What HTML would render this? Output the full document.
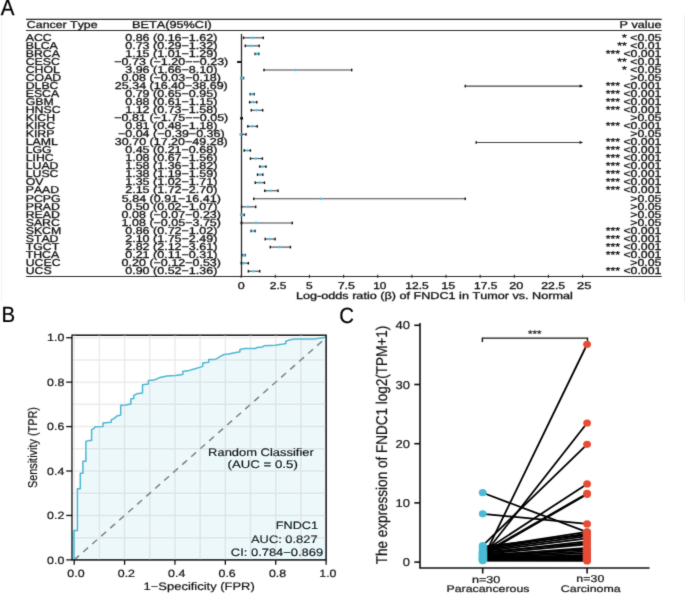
<!DOCTYPE html><html><head><meta charset="utf-8"><style>html,body{margin:0;padding:0;background:#fff;}svg{display:block;}text{font-family:"Liberation Sans",sans-serif;font-kerning:none;text-rendering:geometricPrecision;stroke:#111;stroke-width:0.3px;}.bc text{stroke-width:0.2px;}</style></head><body>
<svg width="685" height="594" viewBox="0 0 685 594">
<rect width="685" height="594" fill="#fff"/>
<defs><filter id="soft" filterUnits="userSpaceOnUse" x="0" y="0" width="685" height="594"><feConvolveMatrix order="3" kernelMatrix="0.02 0.08 0.02 0.08 0.6 0.08 0.02 0.08 0.02" divisor="1" edgeMode="duplicate"/></filter></defs>
<g filter="url(#soft)">
<line x1="1.5" y1="17" x2="1.5" y2="302" stroke="#f2f2f2" stroke-width="1"/>
<line x1="684.5" y1="15" x2="684.5" y2="302" stroke="#f0f0f0" stroke-width="1"/>
<text x="0.86" y="15.30" font-size="21.90" textLength="13.68" lengthAdjust="spacingAndGlyphs" fill="#000" >A</text>
<g stroke="#2a2a2a" stroke-width="1.2" fill="none">
<line x1="26" y1="19.4" x2="661.7" y2="19.4"/>
<line x1="26" y1="30.5" x2="661.7" y2="30.5"/>
<line x1="26" y1="276.5" x2="661.7" y2="276.5"/>
</g>
<text x="26.87" y="27.80" font-size="10.00" textLength="70.68" lengthAdjust="spacingAndGlyphs" fill="#111" >Cancer Type</text>
<text x="131.96" y="27.80" font-size="10.00" textLength="79.83" lengthAdjust="spacingAndGlyphs" fill="#111" >BETA(95%CI)</text>
<text x="619.46" y="27.80" font-size="10.00" textLength="42.10" lengthAdjust="spacingAndGlyphs" fill="#111" >P value</text>
<text x="25.70" y="40.50" font-size="10.00" textLength="25.97" lengthAdjust="spacingAndGlyphs" fill="#111">ACC</text>
<text x="125.26" y="40.50" font-size="10.00" textLength="92.08" lengthAdjust="spacingAndGlyphs" fill="#111">0.86 (0.16−1.62)</text>
<text x="622.07" y="40.50" font-size="10.00" textLength="39.33" lengthAdjust="spacingAndGlyphs" fill="#111">* &lt;0.05</text>
<text x="25.70" y="48.55" font-size="10.00" textLength="32.13" lengthAdjust="spacingAndGlyphs" fill="#111">BLCA</text>
<text x="125.26" y="48.55" font-size="10.00" textLength="92.08" lengthAdjust="spacingAndGlyphs" fill="#111">0.73 (0.29−1.32)</text>
<text x="617.29" y="48.55" font-size="10.00" textLength="44.11" lengthAdjust="spacingAndGlyphs" fill="#111">** &lt;0.01</text>
<text x="25.70" y="56.60" font-size="10.00" textLength="34.17" lengthAdjust="spacingAndGlyphs" fill="#111">BRCA</text>
<text x="125.26" y="56.60" font-size="10.00" textLength="92.08" lengthAdjust="spacingAndGlyphs" fill="#111">1.15 (1.01−1.29)</text>
<text x="605.66" y="56.60" font-size="10.00" textLength="55.74" lengthAdjust="spacingAndGlyphs" fill="#111">*** &lt;0.001</text>
<text x="25.70" y="64.65" font-size="10.00" textLength="34.17" lengthAdjust="spacingAndGlyphs" fill="#111">CESC</text>
<text x="114.31" y="64.65" font-size="10.00" textLength="113.98" lengthAdjust="spacingAndGlyphs" fill="#111">−0.73 (−1.20−−0.23)</text>
<text x="617.29" y="64.65" font-size="10.00" textLength="44.11" lengthAdjust="spacingAndGlyphs" fill="#111">** &lt;0.01</text>
<text x="25.70" y="72.70" font-size="10.00" textLength="34.17" lengthAdjust="spacingAndGlyphs" fill="#111">CHOL</text>
<text x="125.26" y="72.70" font-size="10.00" textLength="92.08" lengthAdjust="spacingAndGlyphs" fill="#111">3.96 (1.66−8.10)</text>
<text x="622.07" y="72.70" font-size="10.00" textLength="39.33" lengthAdjust="spacingAndGlyphs" fill="#111">* &lt;0.05</text>
<text x="25.70" y="80.75" font-size="10.00" textLength="35.54" lengthAdjust="spacingAndGlyphs" fill="#111">COAD</text>
<text x="121.61" y="80.75" font-size="10.00" textLength="99.38" lengthAdjust="spacingAndGlyphs" fill="#111">0.08 (−0.03−0.18)</text>
<text x="630.28" y="80.75" font-size="10.00" textLength="31.12" lengthAdjust="spacingAndGlyphs" fill="#111">&gt;0.05</text>
<text x="25.70" y="88.80" font-size="10.00" textLength="32.81" lengthAdjust="spacingAndGlyphs" fill="#111">DLBC</text>
<text x="114.83" y="88.80" font-size="10.00" textLength="112.94" lengthAdjust="spacingAndGlyphs" fill="#111">25.34 (16.40−38.69)</text>
<text x="605.66" y="88.80" font-size="10.00" textLength="55.74" lengthAdjust="spacingAndGlyphs" fill="#111">*** &lt;0.001</text>
<text x="25.70" y="96.85" font-size="10.00" textLength="33.49" lengthAdjust="spacingAndGlyphs" fill="#111">ESCA</text>
<text x="125.26" y="96.85" font-size="10.00" textLength="92.08" lengthAdjust="spacingAndGlyphs" fill="#111">0.79 (0.65−0.95)</text>
<text x="605.66" y="96.85" font-size="10.00" textLength="55.74" lengthAdjust="spacingAndGlyphs" fill="#111">*** &lt;0.001</text>
<text x="25.70" y="104.90" font-size="10.00" textLength="28.02" lengthAdjust="spacingAndGlyphs" fill="#111">GBM</text>
<text x="125.26" y="104.90" font-size="10.00" textLength="92.08" lengthAdjust="spacingAndGlyphs" fill="#111">0.88 (0.61−1.15)</text>
<text x="605.66" y="104.90" font-size="10.00" textLength="55.74" lengthAdjust="spacingAndGlyphs" fill="#111">*** &lt;0.001</text>
<text x="25.70" y="112.95" font-size="10.00" textLength="34.85" lengthAdjust="spacingAndGlyphs" fill="#111">HNSC</text>
<text x="125.26" y="112.95" font-size="10.00" textLength="92.08" lengthAdjust="spacingAndGlyphs" fill="#111">1.12 (0.73−1.58)</text>
<text x="605.66" y="112.95" font-size="10.00" textLength="55.74" lengthAdjust="spacingAndGlyphs" fill="#111">*** &lt;0.001</text>
<text x="25.70" y="121.00" font-size="10.00" textLength="29.39" lengthAdjust="spacingAndGlyphs" fill="#111">KICH</text>
<text x="114.31" y="121.00" font-size="10.00" textLength="113.98" lengthAdjust="spacingAndGlyphs" fill="#111">−0.81 (−1.75−−0.05)</text>
<text x="630.28" y="121.00" font-size="10.00" textLength="31.12" lengthAdjust="spacingAndGlyphs" fill="#111">&gt;0.05</text>
<text x="25.70" y="129.05" font-size="10.00" textLength="29.39" lengthAdjust="spacingAndGlyphs" fill="#111">KIRC</text>
<text x="125.26" y="129.05" font-size="10.00" textLength="92.08" lengthAdjust="spacingAndGlyphs" fill="#111">0.81 (0.48−1.18)</text>
<text x="605.66" y="129.05" font-size="10.00" textLength="55.74" lengthAdjust="spacingAndGlyphs" fill="#111">*** &lt;0.001</text>
<text x="25.70" y="137.10" font-size="10.00" textLength="28.71" lengthAdjust="spacingAndGlyphs" fill="#111">KIRP</text>
<text x="117.96" y="137.10" font-size="10.00" textLength="106.68" lengthAdjust="spacingAndGlyphs" fill="#111">−0.04 (−0.39−0.36)</text>
<text x="630.28" y="137.10" font-size="10.00" textLength="31.12" lengthAdjust="spacingAndGlyphs" fill="#111">&gt;0.05</text>
<text x="25.70" y="145.15" font-size="10.00" textLength="32.13" lengthAdjust="spacingAndGlyphs" fill="#111">LAML</text>
<text x="114.83" y="145.15" font-size="10.00" textLength="112.94" lengthAdjust="spacingAndGlyphs" fill="#111">30.70 (17.20−49.28)</text>
<text x="605.66" y="145.15" font-size="10.00" textLength="55.74" lengthAdjust="spacingAndGlyphs" fill="#111">*** &lt;0.001</text>
<text x="25.70" y="153.20" font-size="10.00" textLength="25.98" lengthAdjust="spacingAndGlyphs" fill="#111">LGG</text>
<text x="125.26" y="153.20" font-size="10.00" textLength="92.08" lengthAdjust="spacingAndGlyphs" fill="#111">0.45 (0.21−0.68)</text>
<text x="605.66" y="153.20" font-size="10.00" textLength="55.74" lengthAdjust="spacingAndGlyphs" fill="#111">*** &lt;0.001</text>
<text x="25.70" y="161.25" font-size="10.00" textLength="28.02" lengthAdjust="spacingAndGlyphs" fill="#111">LIHC</text>
<text x="125.26" y="161.25" font-size="10.00" textLength="92.08" lengthAdjust="spacingAndGlyphs" fill="#111">1.08 (0.67−1.56)</text>
<text x="605.66" y="161.25" font-size="10.00" textLength="55.74" lengthAdjust="spacingAndGlyphs" fill="#111">*** &lt;0.001</text>
<text x="25.70" y="169.30" font-size="10.00" textLength="32.81" lengthAdjust="spacingAndGlyphs" fill="#111">LUAD</text>
<text x="125.26" y="169.30" font-size="10.00" textLength="92.08" lengthAdjust="spacingAndGlyphs" fill="#111">1.58 (1.36−1.82)</text>
<text x="605.66" y="169.30" font-size="10.00" textLength="55.74" lengthAdjust="spacingAndGlyphs" fill="#111">*** &lt;0.001</text>
<text x="25.70" y="177.35" font-size="10.00" textLength="32.81" lengthAdjust="spacingAndGlyphs" fill="#111">LUSC</text>
<text x="125.26" y="177.35" font-size="10.00" textLength="92.08" lengthAdjust="spacingAndGlyphs" fill="#111">1.38 (1.19−1.59)</text>
<text x="605.66" y="177.35" font-size="10.00" textLength="55.74" lengthAdjust="spacingAndGlyphs" fill="#111">*** &lt;0.001</text>
<text x="25.70" y="185.40" font-size="10.00" textLength="17.77" lengthAdjust="spacingAndGlyphs" fill="#111">OV</text>
<text x="125.26" y="185.40" font-size="10.00" textLength="92.08" lengthAdjust="spacingAndGlyphs" fill="#111">1.35 (1.02−1.71)</text>
<text x="605.66" y="185.40" font-size="10.00" textLength="55.74" lengthAdjust="spacingAndGlyphs" fill="#111">*** &lt;0.001</text>
<text x="25.70" y="193.45" font-size="10.00" textLength="33.49" lengthAdjust="spacingAndGlyphs" fill="#111">PAAD</text>
<text x="125.26" y="193.45" font-size="10.00" textLength="92.08" lengthAdjust="spacingAndGlyphs" fill="#111">2.15 (1.72−2.70)</text>
<text x="605.66" y="193.45" font-size="10.00" textLength="55.74" lengthAdjust="spacingAndGlyphs" fill="#111">*** &lt;0.001</text>
<text x="25.70" y="201.50" font-size="10.00" textLength="34.86" lengthAdjust="spacingAndGlyphs" fill="#111">PCPG</text>
<text x="121.78" y="201.50" font-size="10.00" textLength="99.04" lengthAdjust="spacingAndGlyphs" fill="#111">5.84 (0.91−16.41)</text>
<text x="630.28" y="201.50" font-size="10.00" textLength="31.12" lengthAdjust="spacingAndGlyphs" fill="#111">&gt;0.05</text>
<text x="25.70" y="209.55" font-size="10.00" textLength="34.17" lengthAdjust="spacingAndGlyphs" fill="#111">PRAD</text>
<text x="125.26" y="209.55" font-size="10.00" textLength="92.08" lengthAdjust="spacingAndGlyphs" fill="#111">0.50 (0.02−1.07)</text>
<text x="630.28" y="209.55" font-size="10.00" textLength="31.12" lengthAdjust="spacingAndGlyphs" fill="#111">&gt;0.05</text>
<text x="25.70" y="217.60" font-size="10.00" textLength="34.17" lengthAdjust="spacingAndGlyphs" fill="#111">READ</text>
<text x="121.61" y="217.60" font-size="10.00" textLength="99.38" lengthAdjust="spacingAndGlyphs" fill="#111">0.08 (−0.07−0.23)</text>
<text x="630.28" y="217.60" font-size="10.00" textLength="31.12" lengthAdjust="spacingAndGlyphs" fill="#111">&gt;0.05</text>
<text x="25.70" y="225.65" font-size="10.00" textLength="34.17" lengthAdjust="spacingAndGlyphs" fill="#111">SARC</text>
<text x="121.61" y="225.65" font-size="10.00" textLength="99.38" lengthAdjust="spacingAndGlyphs" fill="#111">1.08 (−0.05−3.75)</text>
<text x="630.28" y="225.65" font-size="10.00" textLength="31.12" lengthAdjust="spacingAndGlyphs" fill="#111">&gt;0.05</text>
<text x="25.70" y="233.70" font-size="10.00" textLength="35.54" lengthAdjust="spacingAndGlyphs" fill="#111">SKCM</text>
<text x="125.26" y="233.70" font-size="10.00" textLength="92.08" lengthAdjust="spacingAndGlyphs" fill="#111">0.86 (0.72−1.02)</text>
<text x="605.66" y="233.70" font-size="10.00" textLength="55.74" lengthAdjust="spacingAndGlyphs" fill="#111">*** &lt;0.001</text>
<text x="25.70" y="241.75" font-size="10.00" textLength="32.80" lengthAdjust="spacingAndGlyphs" fill="#111">STAD</text>
<text x="125.26" y="241.75" font-size="10.00" textLength="92.08" lengthAdjust="spacingAndGlyphs" fill="#111">2.10 (1.75−2.49)</text>
<text x="605.66" y="241.75" font-size="10.00" textLength="55.74" lengthAdjust="spacingAndGlyphs" fill="#111">*** &lt;0.001</text>
<text x="25.70" y="249.80" font-size="10.00" textLength="33.48" lengthAdjust="spacingAndGlyphs" fill="#111">TGCT</text>
<text x="125.26" y="249.80" font-size="10.00" textLength="92.08" lengthAdjust="spacingAndGlyphs" fill="#111">2.82 (2.12−3.61)</text>
<text x="605.66" y="249.80" font-size="10.00" textLength="55.74" lengthAdjust="spacingAndGlyphs" fill="#111">*** &lt;0.001</text>
<text x="25.70" y="257.85" font-size="10.00" textLength="33.48" lengthAdjust="spacingAndGlyphs" fill="#111">THCA</text>
<text x="125.26" y="257.85" font-size="10.00" textLength="92.08" lengthAdjust="spacingAndGlyphs" fill="#111">0.21 (0.11−0.31)</text>
<text x="605.66" y="257.85" font-size="10.00" textLength="55.74" lengthAdjust="spacingAndGlyphs" fill="#111">*** &lt;0.001</text>
<text x="25.70" y="265.90" font-size="10.00" textLength="34.85" lengthAdjust="spacingAndGlyphs" fill="#111">UCEC</text>
<text x="121.61" y="265.90" font-size="10.00" textLength="99.38" lengthAdjust="spacingAndGlyphs" fill="#111">0.20 (−0.12−0.53)</text>
<text x="630.28" y="265.90" font-size="10.00" textLength="31.12" lengthAdjust="spacingAndGlyphs" fill="#111">&gt;0.05</text>
<text x="25.70" y="273.95" font-size="10.00" textLength="25.97" lengthAdjust="spacingAndGlyphs" fill="#111">UCS</text>
<text x="125.26" y="273.95" font-size="10.00" textLength="92.08" lengthAdjust="spacingAndGlyphs" fill="#111">0.90 (0.52−1.36)</text>
<text x="605.66" y="273.95" font-size="10.00" textLength="55.74" lengthAdjust="spacingAndGlyphs" fill="#111">*** &lt;0.001</text>
<line x1="241.5" y1="33.8" x2="241.5" y2="276.3" stroke="#222" stroke-width="1.2"/>
<line x1="241.20" y1="274.8" x2="241.20" y2="277.8" stroke="#222" stroke-width="1.1"/>
<line x1="275.34" y1="274.8" x2="275.34" y2="277.8" stroke="#222" stroke-width="1.1"/>
<line x1="309.48" y1="274.8" x2="309.48" y2="277.8" stroke="#222" stroke-width="1.1"/>
<line x1="343.62" y1="274.8" x2="343.62" y2="277.8" stroke="#222" stroke-width="1.1"/>
<line x1="377.76" y1="274.8" x2="377.76" y2="277.8" stroke="#222" stroke-width="1.1"/>
<line x1="411.90" y1="274.8" x2="411.90" y2="277.8" stroke="#222" stroke-width="1.1"/>
<line x1="446.04" y1="274.8" x2="446.04" y2="277.8" stroke="#222" stroke-width="1.1"/>
<line x1="480.18" y1="274.8" x2="480.18" y2="277.8" stroke="#222" stroke-width="1.1"/>
<line x1="514.32" y1="274.8" x2="514.32" y2="277.8" stroke="#222" stroke-width="1.1"/>
<line x1="548.46" y1="274.8" x2="548.46" y2="277.8" stroke="#222" stroke-width="1.1"/>
<line x1="582.60" y1="274.8" x2="582.60" y2="277.8" stroke="#222" stroke-width="1.1"/>
<text x="237.81" y="288.70" font-size="9.90" textLength="6.98" lengthAdjust="spacingAndGlyphs" fill="#111" >0</text>
<text x="269.80" y="288.70" font-size="9.90" textLength="16.60" lengthAdjust="spacingAndGlyphs" fill="#111" >2.5</text>
<text x="306.02" y="288.70" font-size="9.90" textLength="6.69" lengthAdjust="spacingAndGlyphs" fill="#111" >5</text>
<text x="337.66" y="288.70" font-size="9.90" textLength="17.36" lengthAdjust="spacingAndGlyphs" fill="#111" >7.5</text>
<text x="373.20" y="288.70" font-size="9.90" textLength="13.16" lengthAdjust="spacingAndGlyphs" fill="#111" >10</text>
<text x="405.28" y="288.70" font-size="9.90" textLength="23.42" lengthAdjust="spacingAndGlyphs" fill="#111" >12.5</text>
<text x="441.24" y="288.70" font-size="9.90" textLength="13.99" lengthAdjust="spacingAndGlyphs" fill="#111" >15</text>
<text x="474.09" y="288.70" font-size="9.90" textLength="23.21" lengthAdjust="spacingAndGlyphs" fill="#111" >17.5</text>
<text x="509.16" y="288.70" font-size="9.90" textLength="14.14" lengthAdjust="spacingAndGlyphs" fill="#111" >20</text>
<text x="541.28" y="288.70" font-size="9.90" textLength="23.93" lengthAdjust="spacingAndGlyphs" fill="#111" >22.5</text>
<text x="577.05" y="288.70" font-size="9.90" textLength="14.39" lengthAdjust="spacingAndGlyphs" fill="#111" >25</text>
<text x="295.96" y="298.60" font-size="9.90" textLength="276.88" lengthAdjust="spacingAndGlyphs" fill="#111" >Log-odds ratio (β) of FNDC1 in Tumor vs. Normal</text>
<line x1="243.38" y1="37.80" x2="263.32" y2="37.80" stroke="#444" stroke-width="1.1"/>
<rect x="242.78" y="36.50" width="1.4" height="2.6" fill="#111"/>
<rect x="262.52" y="36.50" width="1.4" height="2.6" fill="#111"/>
<circle cx="252.94" cy="37.80" r="1.35" fill="#4ec0df"/>
<line x1="245.16" y1="45.85" x2="259.23" y2="45.85" stroke="#444" stroke-width="1.1"/>
<rect x="244.56" y="44.55" width="1.4" height="2.6" fill="#111"/>
<rect x="258.43" y="44.55" width="1.4" height="2.6" fill="#111"/>
<circle cx="251.17" cy="45.85" r="1.35" fill="#4ec0df"/>
<line x1="254.99" y1="53.90" x2="258.82" y2="53.90" stroke="#444" stroke-width="1.1"/>
<rect x="254.39" y="52.60" width="1.4" height="2.6" fill="#111"/>
<rect x="258.02" y="52.60" width="1.4" height="2.6" fill="#111"/>
<circle cx="256.90" cy="53.90" r="1.35" fill="#4ec0df"/>
<rect x="237.1" y="60.95" width="4.4" height="2" fill="#111"/>
<line x1="263.87" y1="70.00" x2="351.81" y2="70.00" stroke="#444" stroke-width="1.1"/>
<rect x="263.27" y="68.70" width="1.4" height="2.6" fill="#111"/>
<rect x="351.01" y="68.70" width="1.4" height="2.6" fill="#111"/>
<circle cx="295.28" cy="70.00" r="1.35" fill="#4ec0df"/>
<line x1="241.20" y1="78.05" x2="243.66" y2="78.05" stroke="#444" stroke-width="1.1"/>
<rect x="240.50" y="76.75" width="2" height="2.6" fill="#111"/>
<rect x="242.86" y="76.75" width="1.4" height="2.6" fill="#111"/>
<circle cx="242.29" cy="78.05" r="1.35" fill="#4ec0df"/>
<line x1="465.16" y1="86.10" x2="582.60" y2="86.10" stroke="#444" stroke-width="1.1"/>
<rect x="464.56" y="84.80" width="1.4" height="2.6" fill="#111"/>
<path d="M579.60,84.50 L582.60,86.10 L579.60,87.70 Z" fill="#111"/>
<line x1="250.08" y1="94.15" x2="254.17" y2="94.15" stroke="#444" stroke-width="1.1"/>
<rect x="249.48" y="92.85" width="1.4" height="2.6" fill="#111"/>
<rect x="253.37" y="92.85" width="1.4" height="2.6" fill="#111"/>
<circle cx="251.99" cy="94.15" r="1.35" fill="#4ec0df"/>
<line x1="249.53" y1="102.20" x2="256.90" y2="102.20" stroke="#444" stroke-width="1.1"/>
<rect x="248.93" y="100.90" width="1.4" height="2.6" fill="#111"/>
<rect x="256.10" y="100.90" width="1.4" height="2.6" fill="#111"/>
<circle cx="253.22" cy="102.20" r="1.35" fill="#4ec0df"/>
<line x1="251.17" y1="110.25" x2="262.78" y2="110.25" stroke="#444" stroke-width="1.1"/>
<rect x="250.57" y="108.95" width="1.4" height="2.6" fill="#111"/>
<rect x="261.98" y="108.95" width="1.4" height="2.6" fill="#111"/>
<circle cx="256.49" cy="110.25" r="1.35" fill="#4ec0df"/>
<rect x="240.2" y="117.00" width="2.8" height="2.6" fill="#111"/>
<line x1="247.75" y1="126.35" x2="257.31" y2="126.35" stroke="#444" stroke-width="1.1"/>
<rect x="247.15" y="125.05" width="1.4" height="2.6" fill="#111"/>
<rect x="256.51" y="125.05" width="1.4" height="2.6" fill="#111"/>
<circle cx="252.26" cy="126.35" r="1.35" fill="#4ec0df"/>
<line x1="241.20" y1="134.40" x2="246.12" y2="134.40" stroke="#444" stroke-width="1.1"/>
<rect x="240.50" y="133.10" width="2" height="2.6" fill="#111"/>
<rect x="245.32" y="133.10" width="1.4" height="2.6" fill="#111"/>
<circle cx="240.65" cy="134.40" r="1.35" fill="#4ec0df"/>
<line x1="476.08" y1="142.45" x2="582.60" y2="142.45" stroke="#444" stroke-width="1.1"/>
<rect x="475.48" y="141.15" width="1.4" height="2.6" fill="#111"/>
<path d="M579.60,140.85 L582.60,142.45 L579.60,144.05 Z" fill="#111"/>
<line x1="244.07" y1="150.50" x2="250.49" y2="150.50" stroke="#444" stroke-width="1.1"/>
<rect x="243.47" y="149.20" width="1.4" height="2.6" fill="#111"/>
<rect x="249.69" y="149.20" width="1.4" height="2.6" fill="#111"/>
<circle cx="247.35" cy="150.50" r="1.35" fill="#4ec0df"/>
<line x1="250.35" y1="158.55" x2="262.50" y2="158.55" stroke="#444" stroke-width="1.1"/>
<rect x="249.75" y="157.25" width="1.4" height="2.6" fill="#111"/>
<rect x="261.70" y="157.25" width="1.4" height="2.6" fill="#111"/>
<circle cx="255.95" cy="158.55" r="1.35" fill="#4ec0df"/>
<line x1="259.77" y1="166.60" x2="266.05" y2="166.60" stroke="#444" stroke-width="1.1"/>
<rect x="259.17" y="165.30" width="1.4" height="2.6" fill="#111"/>
<rect x="265.25" y="165.30" width="1.4" height="2.6" fill="#111"/>
<circle cx="262.78" cy="166.60" r="1.35" fill="#4ec0df"/>
<line x1="257.45" y1="174.65" x2="262.91" y2="174.65" stroke="#444" stroke-width="1.1"/>
<rect x="256.85" y="173.35" width="1.4" height="2.6" fill="#111"/>
<rect x="262.11" y="173.35" width="1.4" height="2.6" fill="#111"/>
<circle cx="260.05" cy="174.65" r="1.35" fill="#4ec0df"/>
<line x1="255.13" y1="182.70" x2="264.55" y2="182.70" stroke="#444" stroke-width="1.1"/>
<rect x="254.53" y="181.40" width="1.4" height="2.6" fill="#111"/>
<rect x="263.75" y="181.40" width="1.4" height="2.6" fill="#111"/>
<circle cx="259.64" cy="182.70" r="1.35" fill="#4ec0df"/>
<line x1="264.69" y1="190.75" x2="278.07" y2="190.75" stroke="#444" stroke-width="1.1"/>
<rect x="264.09" y="189.45" width="1.4" height="2.6" fill="#111"/>
<rect x="277.27" y="189.45" width="1.4" height="2.6" fill="#111"/>
<circle cx="270.56" cy="190.75" r="1.35" fill="#4ec0df"/>
<line x1="253.63" y1="198.80" x2="465.29" y2="198.80" stroke="#444" stroke-width="1.1"/>
<rect x="253.03" y="197.50" width="1.4" height="2.6" fill="#111"/>
<rect x="464.49" y="197.50" width="1.4" height="2.6" fill="#111"/>
<circle cx="320.95" cy="198.80" r="1.35" fill="#4ec0df"/>
<line x1="241.47" y1="206.85" x2="255.81" y2="206.85" stroke="#444" stroke-width="1.1"/>
<rect x="240.87" y="205.55" width="1.4" height="2.6" fill="#111"/>
<rect x="255.01" y="205.55" width="1.4" height="2.6" fill="#111"/>
<circle cx="248.03" cy="206.85" r="1.35" fill="#4ec0df"/>
<line x1="241.20" y1="214.90" x2="244.34" y2="214.90" stroke="#444" stroke-width="1.1"/>
<rect x="240.50" y="213.60" width="2" height="2.6" fill="#111"/>
<rect x="243.54" y="213.60" width="1.4" height="2.6" fill="#111"/>
<circle cx="242.29" cy="214.90" r="1.35" fill="#4ec0df"/>
<line x1="241.20" y1="222.95" x2="292.41" y2="222.95" stroke="#444" stroke-width="1.1"/>
<rect x="240.50" y="221.65" width="2" height="2.6" fill="#111"/>
<rect x="291.61" y="221.65" width="1.4" height="2.6" fill="#111"/>
<circle cx="255.95" cy="222.95" r="1.35" fill="#4ec0df"/>
<line x1="251.03" y1="231.00" x2="255.13" y2="231.00" stroke="#444" stroke-width="1.1"/>
<rect x="250.43" y="229.70" width="1.4" height="2.6" fill="#111"/>
<rect x="254.33" y="229.70" width="1.4" height="2.6" fill="#111"/>
<circle cx="252.94" cy="231.00" r="1.35" fill="#4ec0df"/>
<line x1="265.10" y1="239.05" x2="275.20" y2="239.05" stroke="#444" stroke-width="1.1"/>
<rect x="264.50" y="237.75" width="1.4" height="2.6" fill="#111"/>
<rect x="274.40" y="237.75" width="1.4" height="2.6" fill="#111"/>
<circle cx="269.88" cy="239.05" r="1.35" fill="#4ec0df"/>
<line x1="270.15" y1="247.10" x2="290.50" y2="247.10" stroke="#444" stroke-width="1.1"/>
<rect x="269.55" y="245.80" width="1.4" height="2.6" fill="#111"/>
<rect x="289.70" y="245.80" width="1.4" height="2.6" fill="#111"/>
<circle cx="279.71" cy="247.10" r="1.35" fill="#4ec0df"/>
<line x1="242.70" y1="255.15" x2="245.43" y2="255.15" stroke="#444" stroke-width="1.1"/>
<rect x="242.10" y="253.85" width="1.4" height="2.6" fill="#111"/>
<rect x="244.63" y="253.85" width="1.4" height="2.6" fill="#111"/>
<circle cx="244.07" cy="255.15" r="1.35" fill="#4ec0df"/>
<line x1="241.20" y1="263.20" x2="248.44" y2="263.20" stroke="#444" stroke-width="1.1"/>
<rect x="240.50" y="261.90" width="2" height="2.6" fill="#111"/>
<rect x="247.64" y="261.90" width="1.4" height="2.6" fill="#111"/>
<circle cx="243.93" cy="263.20" r="1.35" fill="#4ec0df"/>
<line x1="248.30" y1="271.25" x2="259.77" y2="271.25" stroke="#444" stroke-width="1.1"/>
<rect x="247.70" y="269.95" width="1.4" height="2.6" fill="#111"/>
<rect x="258.97" y="269.95" width="1.4" height="2.6" fill="#111"/>
<circle cx="253.49" cy="271.25" r="1.35" fill="#4ec0df"/>
<g class="bc">
<text x="1.42" y="321.70" font-size="22.20" textLength="13.66" lengthAdjust="spacingAndGlyphs" fill="#000" >B</text>
<g stroke="#ebebeb" stroke-width="1.5">
<line x1="74.20" y1="335.2" x2="74.20" y2="559.9"/>
<line x1="72.1" y1="559.90" x2="326.1" y2="559.90"/>
<line x1="99.39" y1="335.2" x2="99.39" y2="559.9"/>
<line x1="72.1" y1="537.68" x2="326.1" y2="537.68"/>
<line x1="124.58" y1="335.2" x2="124.58" y2="559.9"/>
<line x1="72.1" y1="515.46" x2="326.1" y2="515.46"/>
<line x1="149.77" y1="335.2" x2="149.77" y2="559.9"/>
<line x1="72.1" y1="493.24" x2="326.1" y2="493.24"/>
<line x1="174.96" y1="335.2" x2="174.96" y2="559.9"/>
<line x1="72.1" y1="471.02" x2="326.1" y2="471.02"/>
<line x1="200.15" y1="335.2" x2="200.15" y2="559.9"/>
<line x1="72.1" y1="448.80" x2="326.1" y2="448.80"/>
<line x1="225.34" y1="335.2" x2="225.34" y2="559.9"/>
<line x1="72.1" y1="426.58" x2="326.1" y2="426.58"/>
<line x1="250.53" y1="335.2" x2="250.53" y2="559.9"/>
<line x1="72.1" y1="404.36" x2="326.1" y2="404.36"/>
<line x1="275.72" y1="335.2" x2="275.72" y2="559.9"/>
<line x1="72.1" y1="382.14" x2="326.1" y2="382.14"/>
<line x1="300.91" y1="335.2" x2="300.91" y2="559.9"/>
<line x1="72.1" y1="359.92" x2="326.1" y2="359.92"/>
<line x1="326.10" y1="335.2" x2="326.10" y2="559.9"/>
<line x1="72.1" y1="337.70" x2="326.1" y2="337.70"/>
</g>
<polygon points="74.0,559.9 74.0,530.4 77.4,530.4 77.4,488.7 80.3,488.7 80.3,473.3 82.9,473.3 82.9,461.3 85.9,461.3 85.9,441.5 88.9,440.6 91.6,440.6 91.6,429.7 94.2,428.3 95.0,426.8 103.0,426.5 103.0,423.0 111.2,422.2 111.2,419.8 114.2,418.3 117.1,415.9 120.7,415.1 120.7,405.3 125.0,405.1 130.8,404.0 130.8,399.0 133.8,398.5 133.8,395.3 136.7,393.8 142.5,393.0 142.5,384.8 148.4,383.9 148.4,380.6 154.2,380.1 160.0,377.4 167.0,375.9 175.2,375.5 182.8,374.5 182.8,371.6 189.2,370.4 195.1,368.7 202.7,366.4 202.7,363.0 208.7,362.2 208.7,359.6 214.3,359.6 216.9,358.6 220.4,356.4 224.0,354.5 228.6,354.0 234.7,352.7 239.9,351.7 239.9,349.6 245.0,348.6 255.7,348.4 257.2,347.4 262.3,346.9 263.9,345.8 270.0,345.5 275.1,345.2 283.3,343.9 285.8,343.4 285.8,341.3 288.9,340.1 294.5,339.1 313.9,339.1 321.1,338.1 325.2,337.3 326.0,337.3 326,559.9 74,559.9" fill="#4DBBD5" fill-opacity="0.1"/>
<line x1="74.2" y1="559.9" x2="326.1" y2="337.7" stroke="#7f7f7f" stroke-width="1.5" stroke-dasharray="6.5 5.5"/>
<polyline points="74.0,559.9 74.0,530.4 77.4,530.4 77.4,488.7 80.3,488.7 80.3,473.3 82.9,473.3 82.9,461.3 85.9,461.3 85.9,441.5 88.9,440.6 91.6,440.6 91.6,429.7 94.2,428.3 95.0,426.8 103.0,426.5 103.0,423.0 111.2,422.2 111.2,419.8 114.2,418.3 117.1,415.9 120.7,415.1 120.7,405.3 125.0,405.1 130.8,404.0 130.8,399.0 133.8,398.5 133.8,395.3 136.7,393.8 142.5,393.0 142.5,384.8 148.4,383.9 148.4,380.6 154.2,380.1 160.0,377.4 167.0,375.9 175.2,375.5 182.8,374.5 182.8,371.6 189.2,370.4 195.1,368.7 202.7,366.4 202.7,363.0 208.7,362.2 208.7,359.6 214.3,359.6 216.9,358.6 220.4,356.4 224.0,354.5 228.6,354.0 234.7,352.7 239.9,351.7 239.9,349.6 245.0,348.6 255.7,348.4 257.2,347.4 262.3,346.9 263.9,345.8 270.0,345.5 275.1,345.2 283.3,343.9 285.8,343.4 285.8,341.3 288.9,340.1 294.5,339.1 313.9,339.1 321.1,338.1 325.2,337.3 326.0,337.3" fill="none" stroke="#4BB6D3" stroke-width="1.5" stroke-linejoin="round"/>
<rect x="72.1" y="335.2" width="254" height="224.7" fill="none" stroke="#000" stroke-width="1.4"/>
<g stroke="#111" stroke-width="1.3">
<line x1="66.2" y1="559.90" x2="72.1" y2="559.90"/>
<line x1="74.20" y1="559.9" x2="74.20" y2="564.8"/>
<line x1="66.2" y1="515.46" x2="72.1" y2="515.46"/>
<line x1="124.58" y1="559.9" x2="124.58" y2="564.8"/>
<line x1="66.2" y1="471.02" x2="72.1" y2="471.02"/>
<line x1="174.96" y1="559.9" x2="174.96" y2="564.8"/>
<line x1="66.2" y1="426.58" x2="72.1" y2="426.58"/>
<line x1="225.34" y1="559.9" x2="225.34" y2="564.8"/>
<line x1="66.2" y1="382.14" x2="72.1" y2="382.14"/>
<line x1="275.72" y1="559.9" x2="275.72" y2="564.8"/>
<line x1="66.2" y1="337.70" x2="72.1" y2="337.70"/>
<line x1="326.10" y1="559.9" x2="326.10" y2="564.8"/>
</g>
<text x="47.06" y="563.60" font-size="10.50" textLength="17.24" lengthAdjust="spacingAndGlyphs" fill="#111">0.0</text>
<text x="47.06" y="519.16" font-size="10.50" textLength="17.24" lengthAdjust="spacingAndGlyphs" fill="#111">0.2</text>
<text x="47.06" y="474.72" font-size="10.50" textLength="17.24" lengthAdjust="spacingAndGlyphs" fill="#111">0.4</text>
<text x="47.06" y="430.28" font-size="10.50" textLength="17.24" lengthAdjust="spacingAndGlyphs" fill="#111">0.6</text>
<text x="47.06" y="385.84" font-size="10.50" textLength="17.24" lengthAdjust="spacingAndGlyphs" fill="#111">0.8</text>
<text x="47.06" y="341.40" font-size="10.50" textLength="17.24" lengthAdjust="spacingAndGlyphs" fill="#111">1.0</text>
<text x="67.38" y="576.80" font-size="10.50" textLength="17.24" lengthAdjust="spacingAndGlyphs" fill="#111">0.0</text>
<text x="117.76" y="576.80" font-size="10.50" textLength="17.24" lengthAdjust="spacingAndGlyphs" fill="#111">0.2</text>
<text x="168.14" y="576.80" font-size="10.50" textLength="17.24" lengthAdjust="spacingAndGlyphs" fill="#111">0.4</text>
<text x="218.52" y="576.80" font-size="10.50" textLength="17.24" lengthAdjust="spacingAndGlyphs" fill="#111">0.6</text>
<text x="268.90" y="576.80" font-size="10.50" textLength="17.24" lengthAdjust="spacingAndGlyphs" fill="#111">0.8</text>
<text x="319.28" y="576.80" font-size="10.50" textLength="17.24" lengthAdjust="spacingAndGlyphs" fill="#111">1.0</text>
<text x="143.61" y="590.40" font-size="10.90" textLength="111.19" lengthAdjust="spacingAndGlyphs" fill="#111" >1−Specificity (FPR)</text>
<text transform="translate(37.00,488.09) rotate(-90)" x="0" y="0" font-size="12.80" textLength="80.97" lengthAdjust="spacingAndGlyphs" fill="#111">Sensitivity (TPR)</text>
<text x="208.14" y="456.10" font-size="11.00" textLength="105.68" lengthAdjust="spacingAndGlyphs" fill="#111" >Random Classifier</text>
<text x="227.48" y="468.00" font-size="11.00" textLength="70.34" lengthAdjust="spacingAndGlyphs" fill="#111" >(AUC = 0.5)</text>
<text x="275.76" y="529.00" font-size="10.80" textLength="42.26" lengthAdjust="spacingAndGlyphs" fill="#111" >FNDC1</text>
<text x="250.97" y="542.70" font-size="10.80" textLength="66.67" lengthAdjust="spacingAndGlyphs" fill="#111" >AUC: 0.827</text>
<text x="230.84" y="555.70" font-size="10.80" textLength="92.37" lengthAdjust="spacingAndGlyphs" fill="#111" >CI: 0.784−0.869</text>
<text x="339.37" y="322.60" font-size="22.00" textLength="14.71" lengthAdjust="spacingAndGlyphs" fill="#000" >C</text>
<g stroke="#000" stroke-width="1.8">
<line x1="482.7" y1="559.32" x2="587.1" y2="344.24"/>
<line x1="482.7" y1="556.30" x2="587.1" y2="422.98"/>
<line x1="482.7" y1="545.70" x2="587.1" y2="444.29"/>
<line x1="482.7" y1="551.92" x2="587.1" y2="483.96"/>
<line x1="482.7" y1="553.63" x2="587.1" y2="493.43"/>
<line x1="482.7" y1="554.40" x2="587.1" y2="494.32"/>
<line x1="482.7" y1="492.72" x2="587.1" y2="532.20"/>
<line x1="482.7" y1="513.79" x2="587.1" y2="523.92"/>
<line x1="482.7" y1="560.62" x2="587.1" y2="560.92"/>
<line x1="482.7" y1="560.32" x2="587.1" y2="560.03"/>
<line x1="482.7" y1="560.03" x2="587.1" y2="559.44"/>
<line x1="482.7" y1="559.73" x2="587.1" y2="558.84"/>
<line x1="482.7" y1="559.44" x2="587.1" y2="557.96"/>
<line x1="482.7" y1="559.14" x2="587.1" y2="557.36"/>
<line x1="482.7" y1="558.84" x2="587.1" y2="556.18"/>
<line x1="482.7" y1="558.55" x2="587.1" y2="555.00"/>
<line x1="482.7" y1="557.96" x2="587.1" y2="555.59"/>
<line x1="482.7" y1="557.36" x2="587.1" y2="553.22"/>
<line x1="482.7" y1="556.77" x2="587.1" y2="551.44"/>
<line x1="482.7" y1="556.18" x2="587.1" y2="549.67"/>
<line x1="482.7" y1="555.59" x2="587.1" y2="547.89"/>
<line x1="482.7" y1="555.00" x2="587.1" y2="549.08"/>
<line x1="482.7" y1="554.11" x2="587.1" y2="544.34"/>
<line x1="482.7" y1="553.22" x2="587.1" y2="541.38"/>
<line x1="482.7" y1="552.33" x2="587.1" y2="543.16"/>
<line x1="482.7" y1="551.44" x2="587.1" y2="538.42"/>
<line x1="482.7" y1="550.26" x2="587.1" y2="536.05"/>
<line x1="482.7" y1="549.08" x2="587.1" y2="533.68"/>
<line x1="482.7" y1="547.89" x2="587.1" y2="531.91"/>
<line x1="482.7" y1="546.71" x2="587.1" y2="534.87"/>
</g>
<ellipse cx="482.7" cy="559.32" rx="3.9" ry="3.6" fill="#4DBBD5"/>
<ellipse cx="587.1" cy="344.24" rx="3.9" ry="3.6" fill="#E64B35"/>
<ellipse cx="482.7" cy="556.30" rx="3.9" ry="3.6" fill="#4DBBD5"/>
<ellipse cx="587.1" cy="422.98" rx="3.9" ry="3.6" fill="#E64B35"/>
<ellipse cx="482.7" cy="545.70" rx="3.9" ry="3.6" fill="#4DBBD5"/>
<ellipse cx="587.1" cy="444.29" rx="3.9" ry="3.6" fill="#E64B35"/>
<ellipse cx="482.7" cy="551.92" rx="3.9" ry="3.6" fill="#4DBBD5"/>
<ellipse cx="587.1" cy="483.96" rx="3.9" ry="3.6" fill="#E64B35"/>
<ellipse cx="482.7" cy="553.63" rx="3.9" ry="3.6" fill="#4DBBD5"/>
<ellipse cx="587.1" cy="493.43" rx="3.9" ry="3.6" fill="#E64B35"/>
<ellipse cx="482.7" cy="554.40" rx="3.9" ry="3.6" fill="#4DBBD5"/>
<ellipse cx="587.1" cy="494.32" rx="3.9" ry="3.6" fill="#E64B35"/>
<ellipse cx="482.7" cy="492.72" rx="3.9" ry="3.6" fill="#4DBBD5"/>
<ellipse cx="587.1" cy="532.20" rx="3.9" ry="3.6" fill="#E64B35"/>
<ellipse cx="482.7" cy="513.79" rx="3.9" ry="3.6" fill="#4DBBD5"/>
<ellipse cx="587.1" cy="523.92" rx="3.9" ry="3.6" fill="#E64B35"/>
<ellipse cx="482.7" cy="560.62" rx="3.9" ry="3.6" fill="#4DBBD5"/>
<ellipse cx="587.1" cy="560.92" rx="3.9" ry="3.6" fill="#E64B35"/>
<ellipse cx="482.7" cy="560.32" rx="3.9" ry="3.6" fill="#4DBBD5"/>
<ellipse cx="587.1" cy="560.03" rx="3.9" ry="3.6" fill="#E64B35"/>
<ellipse cx="482.7" cy="560.03" rx="3.9" ry="3.6" fill="#4DBBD5"/>
<ellipse cx="587.1" cy="559.44" rx="3.9" ry="3.6" fill="#E64B35"/>
<ellipse cx="482.7" cy="559.73" rx="3.9" ry="3.6" fill="#4DBBD5"/>
<ellipse cx="587.1" cy="558.84" rx="3.9" ry="3.6" fill="#E64B35"/>
<ellipse cx="482.7" cy="559.44" rx="3.9" ry="3.6" fill="#4DBBD5"/>
<ellipse cx="587.1" cy="557.96" rx="3.9" ry="3.6" fill="#E64B35"/>
<ellipse cx="482.7" cy="559.14" rx="3.9" ry="3.6" fill="#4DBBD5"/>
<ellipse cx="587.1" cy="557.36" rx="3.9" ry="3.6" fill="#E64B35"/>
<ellipse cx="482.7" cy="558.84" rx="3.9" ry="3.6" fill="#4DBBD5"/>
<ellipse cx="587.1" cy="556.18" rx="3.9" ry="3.6" fill="#E64B35"/>
<ellipse cx="482.7" cy="558.55" rx="3.9" ry="3.6" fill="#4DBBD5"/>
<ellipse cx="587.1" cy="555.00" rx="3.9" ry="3.6" fill="#E64B35"/>
<ellipse cx="482.7" cy="557.96" rx="3.9" ry="3.6" fill="#4DBBD5"/>
<ellipse cx="587.1" cy="555.59" rx="3.9" ry="3.6" fill="#E64B35"/>
<ellipse cx="482.7" cy="557.36" rx="3.9" ry="3.6" fill="#4DBBD5"/>
<ellipse cx="587.1" cy="553.22" rx="3.9" ry="3.6" fill="#E64B35"/>
<ellipse cx="482.7" cy="556.77" rx="3.9" ry="3.6" fill="#4DBBD5"/>
<ellipse cx="587.1" cy="551.44" rx="3.9" ry="3.6" fill="#E64B35"/>
<ellipse cx="482.7" cy="556.18" rx="3.9" ry="3.6" fill="#4DBBD5"/>
<ellipse cx="587.1" cy="549.67" rx="3.9" ry="3.6" fill="#E64B35"/>
<ellipse cx="482.7" cy="555.59" rx="3.9" ry="3.6" fill="#4DBBD5"/>
<ellipse cx="587.1" cy="547.89" rx="3.9" ry="3.6" fill="#E64B35"/>
<ellipse cx="482.7" cy="555.00" rx="3.9" ry="3.6" fill="#4DBBD5"/>
<ellipse cx="587.1" cy="549.08" rx="3.9" ry="3.6" fill="#E64B35"/>
<ellipse cx="482.7" cy="554.11" rx="3.9" ry="3.6" fill="#4DBBD5"/>
<ellipse cx="587.1" cy="544.34" rx="3.9" ry="3.6" fill="#E64B35"/>
<ellipse cx="482.7" cy="553.22" rx="3.9" ry="3.6" fill="#4DBBD5"/>
<ellipse cx="587.1" cy="541.38" rx="3.9" ry="3.6" fill="#E64B35"/>
<ellipse cx="482.7" cy="552.33" rx="3.9" ry="3.6" fill="#4DBBD5"/>
<ellipse cx="587.1" cy="543.16" rx="3.9" ry="3.6" fill="#E64B35"/>
<ellipse cx="482.7" cy="551.44" rx="3.9" ry="3.6" fill="#4DBBD5"/>
<ellipse cx="587.1" cy="538.42" rx="3.9" ry="3.6" fill="#E64B35"/>
<ellipse cx="482.7" cy="550.26" rx="3.9" ry="3.6" fill="#4DBBD5"/>
<ellipse cx="587.1" cy="536.05" rx="3.9" ry="3.6" fill="#E64B35"/>
<ellipse cx="482.7" cy="549.08" rx="3.9" ry="3.6" fill="#4DBBD5"/>
<ellipse cx="587.1" cy="533.68" rx="3.9" ry="3.6" fill="#E64B35"/>
<ellipse cx="482.7" cy="547.89" rx="3.9" ry="3.6" fill="#4DBBD5"/>
<ellipse cx="587.1" cy="531.91" rx="3.9" ry="3.6" fill="#E64B35"/>
<ellipse cx="482.7" cy="546.71" rx="3.9" ry="3.6" fill="#4DBBD5"/>
<ellipse cx="587.1" cy="534.87" rx="3.9" ry="3.6" fill="#E64B35"/>
<g stroke="#111" stroke-width="1.6" fill="none">
<polyline points="420,323.1 420,568 649.6,568"/>
<line x1="414.3" y1="562.10" x2="420" y2="562.10"/>
<line x1="414.3" y1="502.90" x2="420" y2="502.90"/>
<line x1="414.3" y1="443.70" x2="420" y2="443.70"/>
<line x1="414.3" y1="384.50" x2="420" y2="384.50"/>
<line x1="414.3" y1="325.30" x2="420" y2="325.30"/>
<line x1="482.7" y1="568" x2="482.7" y2="573.5"/>
<line x1="587.1" y1="568" x2="587.1" y2="573.5"/>
</g>
<text x="402.67" y="566.10" font-size="11.40" textLength="7.23" lengthAdjust="spacingAndGlyphs" fill="#111">0</text>
<text x="395.44" y="506.90" font-size="11.40" textLength="14.46" lengthAdjust="spacingAndGlyphs" fill="#111">10</text>
<text x="395.44" y="447.70" font-size="11.40" textLength="14.46" lengthAdjust="spacingAndGlyphs" fill="#111">20</text>
<text x="395.44" y="388.50" font-size="11.40" textLength="14.46" lengthAdjust="spacingAndGlyphs" fill="#111">30</text>
<text x="395.44" y="329.30" font-size="11.40" textLength="14.46" lengthAdjust="spacingAndGlyphs" fill="#111">40</text>
<polyline points="482.4,342 482.4,338.1 587.5,338.1 587.5,341" fill="none" stroke="#111" stroke-width="1.4"/>
<text x="528.11" y="337.40" font-size="9.50" textLength="13.47" lengthAdjust="spacingAndGlyphs" fill="#111" >***</text>
<text x="471.96" y="582.60" font-size="10.00" textLength="28.33" lengthAdjust="spacingAndGlyphs" fill="#111" >n=30</text>
<text x="576.38" y="582.40" font-size="10.00" textLength="27.91" lengthAdjust="spacingAndGlyphs" fill="#111" >n=30</text>
<text x="446.49" y="591.90" font-size="9.60" textLength="82.96" lengthAdjust="spacingAndGlyphs" fill="#111" >Paracancerous</text>
<text x="560.87" y="592.40" font-size="9.60" textLength="59.83" lengthAdjust="spacingAndGlyphs" fill="#111" >Carcinoma</text>
<text transform="translate(386.80,564.30) rotate(-90)" x="0" y="0" font-size="15.60" textLength="238.64" lengthAdjust="spacingAndGlyphs" fill="#111">The expression of FNDC1 log2(TPM+1)</text>
</g>
</g>
</svg></body></html>
